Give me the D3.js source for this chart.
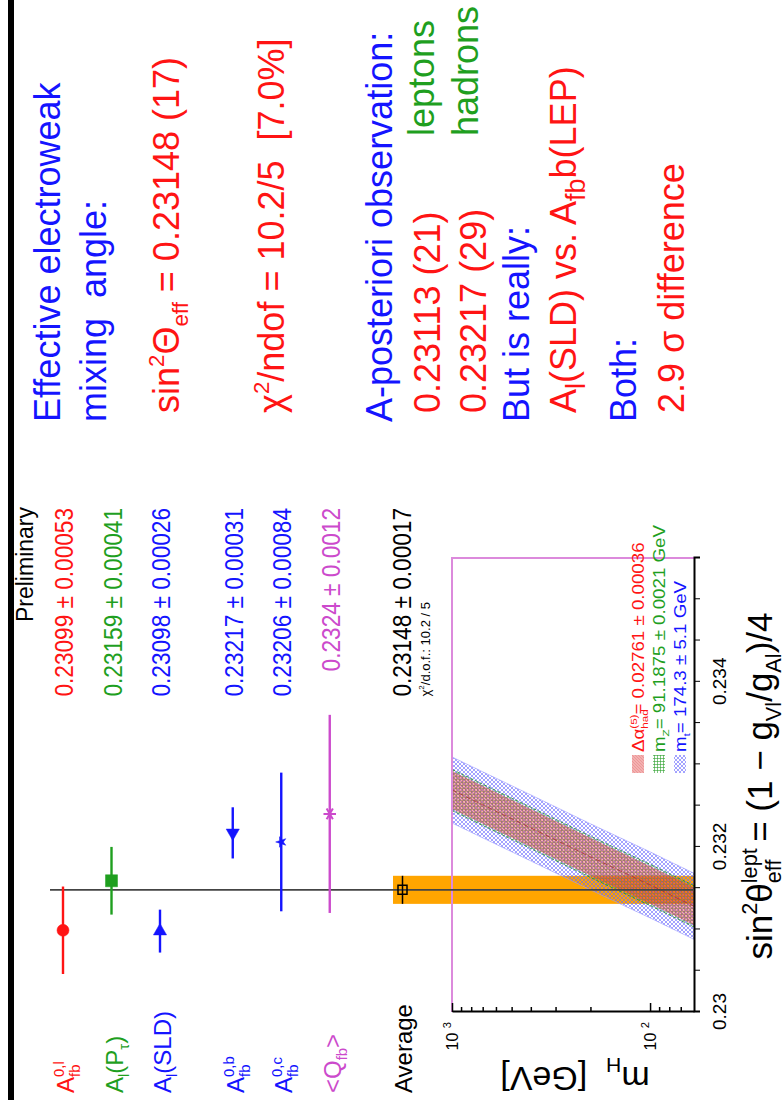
<!DOCTYPE html>
<html>
<head>
  <meta charset="utf-8">
  <title>sin2theta eff lept</title>
  <script src="https://cdn.jsdelivr.net/npm/d3@7"></script>
  <style>
    body { margin: 0; background: #fff; }
    svg text { font-family: "Liberation Sans", Arial, Helvetica, sans-serif; white-space: pre; }
  </style>
</head>
<body>
<script>
  var width = 783, height = 1104;
  // the slide is landscape (1104 x 783); it is drawn in that frame and turned a quarter turn

  // measurements (upper panel)
  var measValues = [0.23099, 0.23159, 0.23098, 0.23217, 0.23206, 0.2324];
  var measErrors = [0.00053, 0.00041, 0.00026, 0.00031, 0.00084, 0.0012];
  var measTexts = ["0.23099 \u00b1 0.00053", "0.23159 \u00b1 0.00041", "0.23098 \u00b1 0.00026",
                   "0.23217 \u00b1 0.00031", "0.23206 \u00b1 0.00084", "0.2324 \u00b1 0.0012"];
  var measGroups = ["lep", "lep", "lep", "had", "had", "had"];
  var measLabels = [
    [{t: "A"}, {t: "fb", sub: 1}, {t: "0,l", sup: 1, stack: 1}],
    [{t: "A"}, {t: "l", sub: 1}, {t: "(P"}, {t: "\u03c4", sub: 1}, {t: ")"}],
    [{t: "A"}, {t: "l", sub: 1}, {t: "(SLD)"}],
    [{t: "A"}, {t: "fb", sub: 1}, {t: "0,b", sup: 1, stack: 1}],
    [{t: "A"}, {t: "fb", sub: 1}, {t: "0,c", sup: 1, stack: 1}],
    [{t: "<Q"}, {t: "fb", sub: 1}, {t: ">"}]
  ];
  var avgValue = 0.23148, avgError = 0.00017;
  var avgText = "0.23148 \u00b1 0.00017";
  var chi2Text = "/d.o.f.: 10.2 / 5";

  // SM prediction against mH (lower panel)
  var bandMh = [60, 100, 200, 400, 700, 1000];
  var bandSin = [0.23128, 0.23154, 0.23188, 0.23223, 0.23251, 0.23269];
  var alphaHalf = 0.00023, mzHalf = 0.00025, mtHalf = 0.0004;
  var legendTexts = [
    [{t: "\u0394\u03b1"}, {t: "had", sub: 1}, {t: "(5)", sup: 1, stack: 1}, {t: "= 0.02761 \u00b1 0.00036"}],
    [{t: "m"}, {t: "Z", sub: 1}, {t: "= 91.1875 \u00b1 0.0021 GeV"}],
    [{t: "m"}, {t: "t", sub: 1}, {t: "= 174.3 \u00b1 5.1 GeV"}]
  ];

  var sinTicks = [0.23, 0.232, 0.234];
  var mhTicks = [100, 1000];
  var mhMinor = [70, 80, 90, 200, 300, 400, 500, 600, 700, 800, 900];

  var red = "#ff1414", green = "#1f9f1f", blue = "#1414ff", magenta = "#cc4acc";
  var measColors = [red, green, blue, blue, blue, magenta];

  function rich(sel, parts, size) {
    var cur = 0, prev = null;
    parts.forEach(function(p) {
      var off = p.sup ? -0.42 * size : p.sub ? 0.26 * size : 0;
      var ts = sel.append("tspan").text(p.t).attr("dy", (off - cur).toFixed(2));
      if (p.sup || p.sub) ts.attr("font-size", ((p.k || 0.62) * size).toFixed(1));
      var dx = p.dx || 0;
      if (p.stack && prev) dx -= prev.node().getComputedTextLength();
      if (dx) ts.attr("dx", dx.toFixed(2));
      cur = off;
      prev = ts;
    });
    return sel;
  }

  var svg = d3.select("body").append("svg")
    .attr("width", width)
    .attr("height", height);
  svg.append("rect").attr("width", width).attr("height", height).attr("fill", "#fff");

  var defs = svg.append("defs");
  var pb = defs.append("pattern").attr("id", "hBlue").attr("patternUnits", "userSpaceOnUse")
    .attr("width", 4).attr("height", 4);
  pb.append("path").attr("d", "M0,0L4,4M4,0L0,4").attr("stroke", "#6464ff").attr("stroke-width", 0.6);
  var pg = defs.append("pattern").attr("id", "hGreen").attr("patternUnits", "userSpaceOnUse")
    .attr("width", 3).attr("height", 3);
  pg.append("path").attr("d", "M0,0.5H3M0.5,0V3").attr("stroke", "#2ca02c").attr("stroke-width", 0.6);
  var pp = defs.append("pattern").attr("id", "hPink").attr("patternUnits", "userSpaceOnUse")
    .attr("width", 3).attr("height", 3);
  pp.append("rect").attr("width", 3).attr("height", 3).attr("fill", "#e23c3c").attr("fill-opacity", 0.4);
  pp.append("path").attr("d", "M0,3L3,0").attr("stroke", "#d03030").attr("stroke-width", 0.4).attr("stroke-opacity", 0.5);

  var g = svg.append("g").attr("transform", "translate(0," + height + ") rotate(-90)");

  // scales (landscape frame)
  var xS = d3.scaleLinear().domain([0.23, 0.2355]).range([92, 546]);
  var yM = d3.scaleLog().domain([60, 1000]).range([694, 452]);
  var rowS = d3.scaleLinear().domain([0, 7]).range([63, 402.5]);
  function rowOf(i) { return rowS(i + (measGroups[i] === "had" ? 0.5 : 0)); }
  var avgRow = rowS(7);

  // top bar
  g.append("rect").attr("x", 4).attr("y", 8).attr("width", 1100).attr("height", 6).attr("fill", "#000");

  g.append("text").attr("x", 597).attr("y", 33).attr("text-anchor", "end")
    .attr("font-size", 23).attr("fill", "#000").text("Preliminary");

  // orange average band
  g.append("rect")
    .attr("x", xS(avgValue - avgError))
    .attr("y", 393)
    .attr("width", xS(avgValue + avgError) - xS(avgValue - avgError))
    .attr("height", 694 - 393)
    .attr("fill", "#ffa500");

  // SM bands
  var bandData = bandMh.map(function(m, i) { return {m: m, s: bandSin[i]}; });
  function band(half) {
    return d3.area()
      .y(function(d) { return yM(d.m); })
      .x0(function(d) { return xS(d.s - half); })
      .x1(function(d) { return xS(d.s + half); });
  }
  g.append("path").datum(bandData).attr("d", band(mtHalf))
    .attr("fill", "url(#hBlue)").attr("stroke", "#9a9aff").attr("stroke-width", 0.6);
  g.append("path").datum(bandData).attr("d", band(mzHalf))
    .attr("fill", "url(#hGreen)").attr("fill-opacity", 0.6)
    .attr("stroke", "#2a8a2a").attr("stroke-width", 0.8).attr("stroke-dasharray", "3,2");
  g.append("path").datum(bandData).attr("d", band(alphaHalf))
    .attr("fill", "url(#hPink)");
  g.append("path").datum(bandData)
    .attr("d", d3.line().x(function(d) { return xS(d.s); }).y(function(d) { return yM(d.m); }))
    .attr("fill", "none").attr("stroke", "#a83030").attr("stroke-width", 0.8).attr("stroke-dasharray", "5,3");

  // frame (magenta top/right)
  g.append("path")
    .attr("d", "M" + xS.range()[0] + "," + yM(1000) + "H" + xS.range()[1] + "V" + yM(60))
    .attr("fill", "none").attr("stroke", "#dc8adc").attr("stroke-width", 2);

  // sin2 axis
  var sinAll = d3.range(0, 12).map(function(i) { return 0.23 + i * 0.0005; });
  var fmt = d3.format(".3~f");
  var axX = g.append("g").attr("transform", "translate(0," + yM(60) + ")")
    .call(d3.axisBottom(xS).tickValues(sinAll).tickSizeOuter(0).tickSize(6).tickPadding(13)
      .tickFormat(function(d) {
        return sinTicks.some(function(t) { return Math.abs(t - d) < 1e-7; }) ? fmt(d) : "";
      }));
  axX.select(".domain").attr("stroke-width", 2);
  axX.selectAll("text").attr("font-size", 19).attr("font-family", "Liberation Sans, Arial, sans-serif");

  // mH axis
  var axY = g.append("g").attr("transform", "translate(" + xS.range()[0] + ",0)")
    .call(d3.axisLeft(yM).tickValues(mhTicks.concat(mhMinor)).tickSizeOuter(0).tickFormat(""));
  axY.select(".domain").attr("stroke-width", 2);
  axY.selectAll(".tick line")
    .attr("x2", function(d) { return mhTicks.indexOf(d) >= 0 ? 9 : 5; })
    .attr("stroke-width", 1.5);
  mhTicks.forEach(function(m) {
    rich(g.append("text").attr("x", 82).attr("y", yM(m) + 6).attr("text-anchor", "end")
      .attr("font-size", 16).attr("fill", "#000"),
      [{t: "10 "}, {t: String(Math.round(Math.log10(m))), sup: 1, k: 0.7}], 16);
  });

  // axis titles
  rich(g.append("text").attr("transform", "translate(37,575) rotate(-90)")
    .attr("text-anchor", "middle").attr("font-size", 34).attr("fill", "#000"),
    [{t: "m"}, {t: "H", sub: 1}, {t: "  [GeV]"}], 34);
  rich(g.append("text").attr("x", 318).attr("y", 772).attr("text-anchor", "middle")
    .attr("font-size", 35).attr("fill", "#000"),
    [{t: "sin"}, {t: "2", sup: 1}, {t: "\u03b8"}, {t: "lept", sup: 1}, {t: "eff", sub: 1, stack: 1},
     {t: " = (1 \u2212 g", dx: 8}, {t: "Vl", sub: 1}, {t: "/g"}, {t: "Al", sub: 1}, {t: ")/4"}], 35);

  // legend
  var legFills = ["url(#hPink)", "url(#hGreen)", "url(#hBlue)"];
  var legColors = [red, green, blue];
  legendTexts.forEach(function(parts, i) {
    var vy = 632 + i * 21;
    g.append("rect").attr("x", 331).attr("y", vy).attr("width", 18).attr("height", 12)
      .attr("fill", legFills[i]);
    var lg = g.append("g").attr("transform", "translate(352," + (vy + 12) + ") scale(1.17,1)");
    rich(lg.append("text").attr("font-size", 16).attr("fill", legColors[i]), parts, 16);
  });

  // average line across both panels
  g.append("line")
    .attr("x1", xS(avgValue)).attr("x2", xS(avgValue))
    .attr("y1", 50).attr("y2", yM(60))
    .attr("stroke", "#444").attr("stroke-width", 1.6);

  // measurements
  var symbols = [d3.symbolCircle, d3.symbolSquare, d3.symbolTriangle, d3.symbolTriangle, d3.symbolStar, d3.symbolAsterisk];
  var symSize = [113, 144, 75, 75, 35, 110];
  var symRot = [0, 0, 90, -90, 0, 0];

  measValues.forEach(function(v, i) {
    var r = rowOf(i);
    g.append("line")
      .attr("x1", xS(v - measErrors[i])).attr("x2", xS(v + measErrors[i]))
      .attr("y1", r).attr("y2", r)
      .attr("stroke", measColors[i]).attr("stroke-width", 2.4);
    var star = symbols[i] === d3.symbolAsterisk;
    g.append("path")
      .attr("d", d3.symbol(symbols[i], symSize[i])())
      .attr("transform", "translate(" + xS(v) + "," + r + ") rotate(" + symRot[i] + ")")
      .attr("fill", star ? "none" : measColors[i])
      .attr("stroke", measColors[i])
      .attr("stroke-width", star ? 2 : 0.5);

    rich(g.append("text").attr("x", 11).attr("y", r + 11).attr("font-size", 24).attr("fill", measColors[i]),
      measLabels[i], 24);

    var t = g.append("text").attr("x", 596).attr("y", r + 10).attr("text-anchor", "end")
      .attr("font-size", 26).attr("fill", measColors[i]).text(measTexts[i]);
    t.attr("textLength", (t.node().getComputedTextLength() * 0.87).toFixed(1))
      .attr("lengthAdjust", "spacingAndGlyphs");
  });

  // average point
  g.append("line")
    .attr("x1", xS(avgValue - avgError)).attr("x2", xS(avgValue + avgError))
    .attr("y1", avgRow).attr("y2", avgRow)
    .attr("stroke", "#000").attr("stroke-width", 1.5);
  g.append("path")
    .attr("d", d3.symbol(d3.symbolSquare, 81)())
    .attr("transform", "translate(" + xS(avgValue) + "," + avgRow + ")")
    .attr("fill", "none").attr("stroke", "#000").attr("stroke-width", 1.5);
  g.append("text").attr("x", 11).attr("y", avgRow + 9).attr("font-size", 24).attr("fill", "#000").text("Average");
  var at = g.append("text").attr("x", 596).attr("y", avgRow + 8).attr("text-anchor", "end")
    .attr("font-size", 26).attr("fill", "#000").text(avgText);
  var atLen = at.node().getComputedTextLength() * 0.87;
  at.attr("textLength", atLen.toFixed(1)).attr("lengthAdjust", "spacingAndGlyphs");
  rich(g.append("text").attr("x", 596 - atLen).attr("y", avgRow + 27).attr("font-size", 13).attr("fill", "#000"),
    [{t: "\u03c7"}, {t: "2", sup: 1}, {t: chi2Text}], 13);

  // notes on the right of the slide
  var noteLines = [
    {parts: [{t: "Effective electroweak"}], c: blue, x: 682, y: 60},
    {parts: [{t: "mixing  angle:"}], c: blue, x: 682, y: 106},
    {parts: [{t: "sin"}, {t: "2", sup: 1}, {t: "\u0398"}, {t: "eff", sub: 1}, {t: " = 0.23148 (17)"}], c: red, x: 691, y: 179},
    {parts: [{t: "\u03c7"}, {t: "2", sup: 1}, {t: "/ndof = 10.2/5  [7.0%]"}], c: red, x: 691, y: 284},
    {parts: [{t: "A-posteriori observation:"}], c: blue, x: 682, y: 392},
    {parts: [{t: "0.23113 (21)"}], c: red, x: 691, y: 440},
    {parts: [{t: "leptons"}], c: green, x: 968, y: 434},
    {parts: [{t: "0.23217 (29)"}], c: red, x: 691, y: 486},
    {parts: [{t: "hadrons"}], c: green, x: 968, y: 478},
    {parts: [{t: "But is really:"}], c: blue, x: 682, y: 529},
    {parts: [{t: "A"}, {t: "l", sub: 1, k: 0.75}, {t: "(SLD) vs. A"}, {t: "fb", sub: 1, k: 0.75}, {t: "b(LEP)"}], c: red, x: 691, y: 576},
    {parts: [{t: "Both:"}], c: blue, x: 682, y: 636},
    {parts: [{t: "2.9 \u03c3 difference"}], c: red, x: 691, y: 684}
  ];
  noteLines.forEach(function(n) {
    rich(g.append("text").attr("x", n.x).attr("y", n.y).attr("font-size", 36).attr("fill", n.c), n.parts, 36);
  });
</script>
</body>
</html>
